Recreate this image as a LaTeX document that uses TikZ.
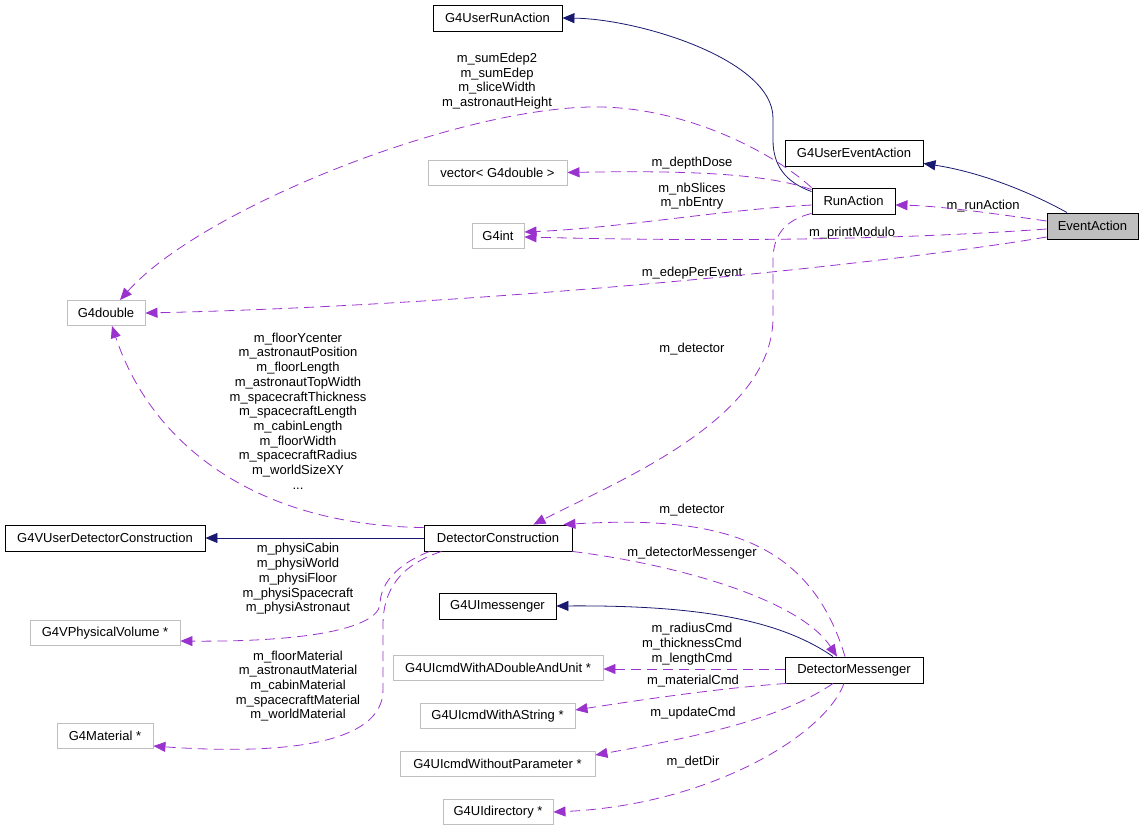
\documentclass[tikz,border=0pt]{standalone}
\usepackage{fontspec}
\setmainfont{Liberation Sans}
\usetikzlibrary{arrows.meta}
\definecolor{navyedge}{HTML}{191970}
\definecolor{orchidedge}{HTML}{9A32CD}
\definecolor{boxgrey}{HTML}{BFBFBF}
\tikzset{
	cls/.style 2 args={draw,line width=0.9pt,minimum width=#1,minimum height=26pt,inner sep=0pt,name=#2},
	ext/.style 2 args={draw=boxgrey,line width=0.9pt,minimum width=#1,minimum height=25pt,inner sep=0pt,name=#2},
	cur/.style 2 args={cls={#1}{#2},fill=boxgrey},
	inh/.style={draw=navyedge,line width=0.8pt,-{Triangle[length=12pt,width=10pt]}},
	usage/.style={draw=orchidedge,line width=0.8pt,dash pattern=on 10pt off 6pt,-{Triangle[length=12pt,width=10pt,fill=orchidedge]}},
	lbl/.style={align=center,inner sep=0pt}
}

\begin{document}
\begin{tikzpicture}[x=1pt,y=-1pt,font=\fontsize{13}{14.7}\selectfont]
	\useasboundingbox (0,0) rectangle (1144,828);

	\node [cls={129pt}{gura}] at (497.5,18) {G4UserRunAction};
	\node [cls={138pt}{guea}] at (854,153) {G4UserEventAction};
	\node [cls={83pt}{ra}] at (853.5,201) {RunAction};
	\node [cur={91pt}{ea}] at (1092.5,226) {EventAction};
	\node [ext={139pt}{vec}] at (497.5,172.5) {vector< G4double >};
	\node [ext={52pt}{gint}] at (498,236) {G4int};
	\node [ext={78pt}{gdbl}] at (106,313) {G4double};
	\node [cls={200pt}{gudc}] at (105,538) {G4VUserDetectorConstruction};
	\node [cls={148pt}{dc}] at (498,538) {DetectorConstruction};
	\node [cls={117pt}{gum}] at (497.5,606) {G4UImessenger};
	\node [ext={150pt}{gpv}] at (105,633) {G4VPhysicalVolume *};
	\node [ext={210pt}{dbu}] at (498,668) {G4UIcmdWithADoubleAndUnit *};
	\node [cls={138pt}{dm}] at (854,670) {DetectorMessenger};
	\node [ext={155pt}{gas}] at (497.5,716) {G4UIcmdWithAString *};
	\node [ext={96pt}{gmat}] at (105,736) {G4Material *};
	\node [ext={195pt}{gwp}] at (497.5,764) {G4UIcmdWithoutParameter *};
	\node [ext={110pt}{gud}] at (498,812) {G4UIdirectory *};

	\node [lbl] (lSum) at (497,81) {m\_sumEdep2\\m\_sumEdep\\m\_sliceWidth\\m\_astronautHeight};
	\node [lbl] (lDose) at (692,163) {m\_depthDose};
	\node [lbl] (lSlices) at (692,196) {m\_nbSlices\\m\_nbEntry};
	\node [lbl] (lRun) at (983,206) {m\_runAction};
	\node [lbl] (lPrint) at (852,233) {m\_printModulo};
	\node [lbl] (lEdep) at (692,273) {m\_edepPerEvent};
	\node [lbl] (lDet) at (692,349) {m\_detector};
	\node [lbl] (lGeom) at (298,411) {m\_floorYcenter\\m\_astronautPosition\\m\_floorLength\\m\_astronautTopWidth\\m\_spacecraftThickness\\m\_spacecraftLength\\m\_cabinLength\\m\_floorWidth\\m\_spacecraftRadius\\m\_worldSizeXY\\...};
	\node [lbl] (lDetB) at (692,510) {m\_detector};
	\node [lbl] (lMess) at (692,553) {m\_detectorMessenger};
	\node [lbl] (lPhys) at (298,579) {m\_physiCabin\\m\_physiWorld\\m\_physiFloor\\m\_physiSpacecraft\\m\_physiAstronaut};
	\node [lbl] (lMat) at (298,686) {m\_floorMaterial\\m\_astronautMaterial\\m\_cabinMaterial\\m\_spacecraftMaterial\\m\_worldMaterial};
	\node [lbl] (lCmd) at (692,644) {m\_radiusCmd\\m\_thicknessCmd\\m\_lengthCmd};
	\node [lbl] (lMatCmd) at (693,681) {m\_materialCmd};
	\node [lbl] (lUpd) at (693,713) {m\_updateCmd};
	\node [lbl] (lDir) at (693,762) {m\_detDir};

	\draw[inh] ([xshift=-25.5pt]ea.north) .. controls (1030,192) and (980,172) .. ([yshift=3pt]guea.south east);
	\draw[inh] ([yshift=-4pt]ra.north west) .. controls (785,182) and (773,165) .. (773,140) -- (773,118) .. controls (773,60) and (640,19) .. (gura.east);
	\draw[inh] (dc.west) -- (gudc.east);
	\draw[inh] ([xshift=-21pt]dm.north) .. controls (780,620) and (700,605) .. (gum.east);

	\draw[usage] ([yshift=5pt]ea.west) .. controls (990,213) and (940,206) .. ([yshift=-4pt]ra.east);
	\draw[usage] ([yshift=-3pt]ea.west) .. controls (850,243) and (650,240) .. ([yshift=-1pt]gint.east);
	\draw[usage] ([yshift=-11pt]ea.west) .. controls (900,262) and (500,305) .. (gdbl.east);
	\draw[usage] ([yshift=-2pt]ra.north west) .. controls (770,175) and (700,170) .. (vec.east);
	\draw[usage] ([yshift=-4pt]ra.west) .. controls (720,210) and (620,228) .. ([yshift=4pt]gint.east);
	\draw[usage] (ra.north west) .. controls (770,150) and (680,105) .. (590,107) .. controls (450,110) and (200,210) .. ([xshift=14pt]gdbl.north);
	\draw[usage] ([yshift=1pt]ra.south west) .. controls (785,220) and (773,235) .. (773,260) -- (773,320) .. controls (770,420) and (620,480) .. ([xshift=-39pt]dc.north east);
	\draw[usage] ([yshift=-3pt]dc.north west) .. controls (250,525) and (150,440) .. ([xshift=6pt]gdbl.south);
	\draw[usage] ([xshift=6pt]dc.south west) .. controls (395,565) and (380,585) .. (380,605) .. controls (375,630) and (300,642) .. ([yshift=-8pt]gpv.east);
	\draw[usage] ([xshift=18pt]dc.south west) .. controls (400,565) and (383,590) .. (383,625) -- (383,690) .. controls (383,745) and (280,755) .. ([yshift=-10pt]gmat.east);
	\draw[usage] ([xshift=-9pt]dm.north) .. controls (810,540) and (720,515) .. ([xshift=-9pt]dc.north east);
	\draw[usage] (dc.south east) .. controls (680,565) and (800,600) .. ([xshift=-17pt]dm.north);
	\draw[usage] ([yshift=1pt]dm.west) -- ([yshift=-1pt]dbu.east);
	\draw[usage] ([xshift=2pt]dm.south west) .. controls (720,688) and (640,700) .. ([yshift=6pt]gas.east);
	\draw[usage] ([xshift=-21pt]dm.south) .. controls (780,720) and (690,738) .. ([yshift=9pt]gwp.east);
	\draw[usage] ([xshift=-10pt]dm.south) .. controls (825,735) and (710,805) .. (gud.east);
\end{tikzpicture}
\end{document}
